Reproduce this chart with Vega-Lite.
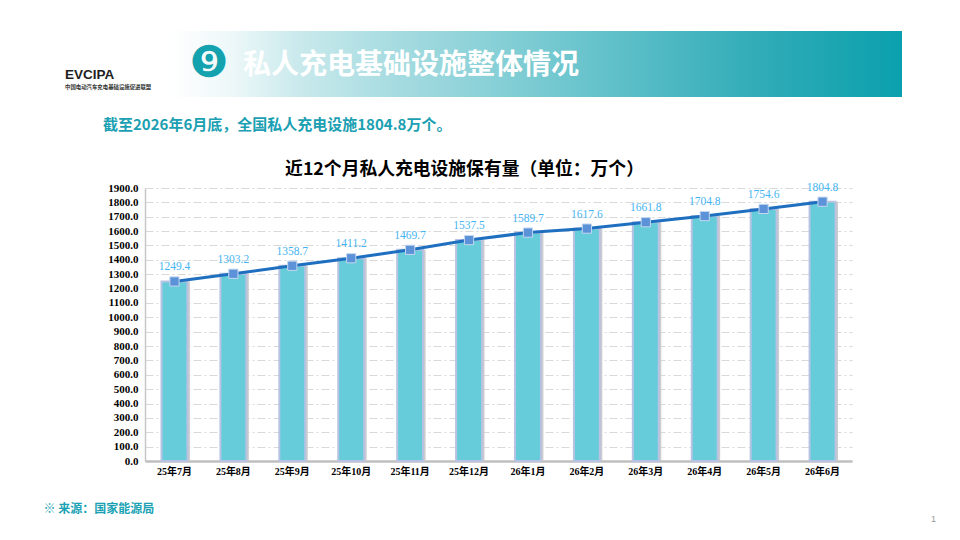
{
  "$schema": "https://vega.github.io/schema/vega-lite/v6.json",
  "background": "white",
  "padding": {"left": 43, "top": 31, "right": 0, "bottom": 0},
  "bounds": "flush",
  "spacing": 91,
  "title": {
    "text": "1",
    "orient": "bottom",
    "anchor": "end",
    "frame": "bounds",
    "offset": 1,
    "dx": 34,
    "fontSize": 9,
    "fontWeight": "normal",
    "color": "#9a9a9a",
    "font": "Liberation Sans"
  },
  "vconcat": [
    {
      "width": 757,
      "height": 66,
      "view": {
        "stroke": null,
        "fill": {
          "gradient": "linear",
          "x1": 0, "y1": 0, "x2": 1, "y2": 0,
          "stops": [
            {"offset": 0, "color": "#ffffff"},
            {"offset": 0.033, "color": "#ffffff"},
            {"offset": 0.112, "color": "#eef8f9"},
            {"offset": 0.205, "color": "#c9e9ec"},
            {"offset": 0.337, "color": "#a4dbe0"},
            {"offset": 0.469, "color": "#86cfd6"},
            {"offset": 0.601, "color": "#64c2cb"},
            {"offset": 0.799, "color": "#33adb8"},
            {"offset": 1, "color": "#0aa0ad"}
          ]
        }
      },
      "title": {
        "text": "截至2026年6月底，全国私人充电设施1804.8万个。",
        "orient": "bottom",
        "anchor": "start",
        "frame": "group",
        "dx": -42,
        "offset": 21,
        "fontSize": 15,
        "fontWeight": "bold",
        "color": "#1aa0b2",
        "font": "Noto Sans CJK SC"
      },
      "data": {
        "values": [
          {
            "heading": "私人充电基础设施整体情况",
            "badge": "❾",
            "logo": "EVCIPA",
            "alliance": "中国电动汽车充电基础设施促进联盟"
          }
        ]
      },
      "layer": [
        {
          "mark": {"type": "text", "font": "DejaVu Sans", "fontSize": 44, "color": "#13a2ae", "align": "center", "baseline": "middle", "dx": -314.5, "dy": 0},
          "encoding": {"text": {"field": "badge"}}
        },
        {
          "mark": {"type": "text", "font": "Noto Sans CJK SC", "fontSize": 28, "fontWeight": "bold", "color": "white", "align": "left", "baseline": "middle", "dx": -280.5, "dy": 2},
          "encoding": {"text": {"field": "heading"}}
        },
        {
          "mark": {"type": "text", "font": "Liberation Sans", "fontSize": 13.5, "fontWeight": "bold", "color": "#1e1e1e", "align": "left", "baseline": "middle", "dx": -458.5, "dy": 11},
          "encoding": {"text": {"field": "logo"}}
        },
        {
          "mark": {"type": "text", "font": "Noto Sans CJK SC", "fontSize": 5.4, "fontWeight": "bold", "color": "#333333", "align": "left", "baseline": "middle", "dx": -458.5, "dy": 23},
          "encoding": {"text": {"field": "alliance"}}
        }
      ]
    },
    {
      "width": 707,
      "height": 273,
      "title": {
        "text": "近12个月私人充电设施保有量（单位：万个）",
        "anchor": "middle",
        "frame": "group",
        "dx": -34,
        "offset": 3,
        "fontSize": 17.8,
        "fontWeight": "bold",
        "color": "#000000",
        "font": "Noto Sans CJK SC"
      },
      "data": {
        "values": [
          {"month": "25年7月", "value": 1249.4},
          {"month": "25年8月", "value": 1303.2},
          {"month": "25年9月", "value": 1358.7},
          {"month": "25年10月", "value": 1411.2},
          {"month": "25年11月", "value": 1469.7},
          {"month": "25年12月", "value": 1537.5},
          {"month": "26年1月", "value": 1589.7},
          {"month": "26年2月", "value": 1617.6},
          {"month": "26年3月", "value": 1661.8},
          {"month": "26年4月", "value": 1704.8},
          {"month": "26年5月", "value": 1754.6},
          {"month": "26年6月", "value": 1804.8}
        ]
      },
      "view": {"stroke": null},
      "encoding": {
        "x": {
          "field": "month",
          "type": "nominal",
          "sort": null,
          "scale": {"paddingInner": 0.56, "paddingOuter": 0.28},
          "axis": {
            "title": "※ 来源：国家能源局",
            "titleX": -102,
            "titleY": 47,
            "titleAlign": "left",
            "titleBaseline": "middle",
            "titleFont": "Noto Sans CJK SC",
            "titleFontSize": 12,
            "titleFontWeight": "bold",
            "titleColor": "#1aa2b4",
            "labelAngle": 0,
            "labelFont": "Liberation Serif, Noto Sans CJK SC",
            "labelFontSize": 10,
            "labelFontWeight": "bold",
            "labelColor": "#000000",
            "labelPadding": 5,
            "ticks": false,
            "grid": false,
            "domainColor": "#bfbfbf",
            "domainWidth": 2.5
          }
        },
        "y": {
          "field": "value",
          "type": "quantitative",
          "scale": {"domain": [0, 1900], "nice": false},
          "axis": {
            "title": null,
            "values": [0, 100, 200, 300, 400, 500, 600, 700, 800, 900, 1000, 1100, 1200, 1300, 1400, 1500, 1600, 1700, 1800, 1900],
            "format": ".1f",
            "labelFont": "Liberation Serif",
            "labelFontSize": 11,
            "labelFontWeight": "bold",
            "labelColor": "#000000",
            "labelPadding": 7,
            "ticks": false,
            "domainColor": "#c6c6c6",
            "domainWidth": 1.5,
            "gridColor": "#d9d9d9",
            "gridDash": [8, 3, 2, 3],
            "gridWidth": 1
          }
        }
      },
      "layer": [
        {"mark": {"type": "bar", "color": "#cccccc", "xOffset": 2.5}},
        {"mark": {"type": "bar", "color": "#66ccd9", "stroke": "#b8c2e2", "strokeWidth": 2}},
        {"mark": {"type": "line", "color": "#1f6fc0", "strokeWidth": 3}},
        {"mark": {"type": "point", "shape": "square", "filled": true, "size": 85, "color": "#5b92d8", "stroke": "#c5d7f0", "strokeWidth": 1, "opacity": 1}},
        {
          "mark": {"type": "text", "dy": -14, "color": "#45b4f2", "font": "Liberation Serif", "fontSize": 11.5},
          "encoding": {"text": {"field": "value", "type": "quantitative", "format": ".1f"}}
        }
      ]
    }
  ]
}
